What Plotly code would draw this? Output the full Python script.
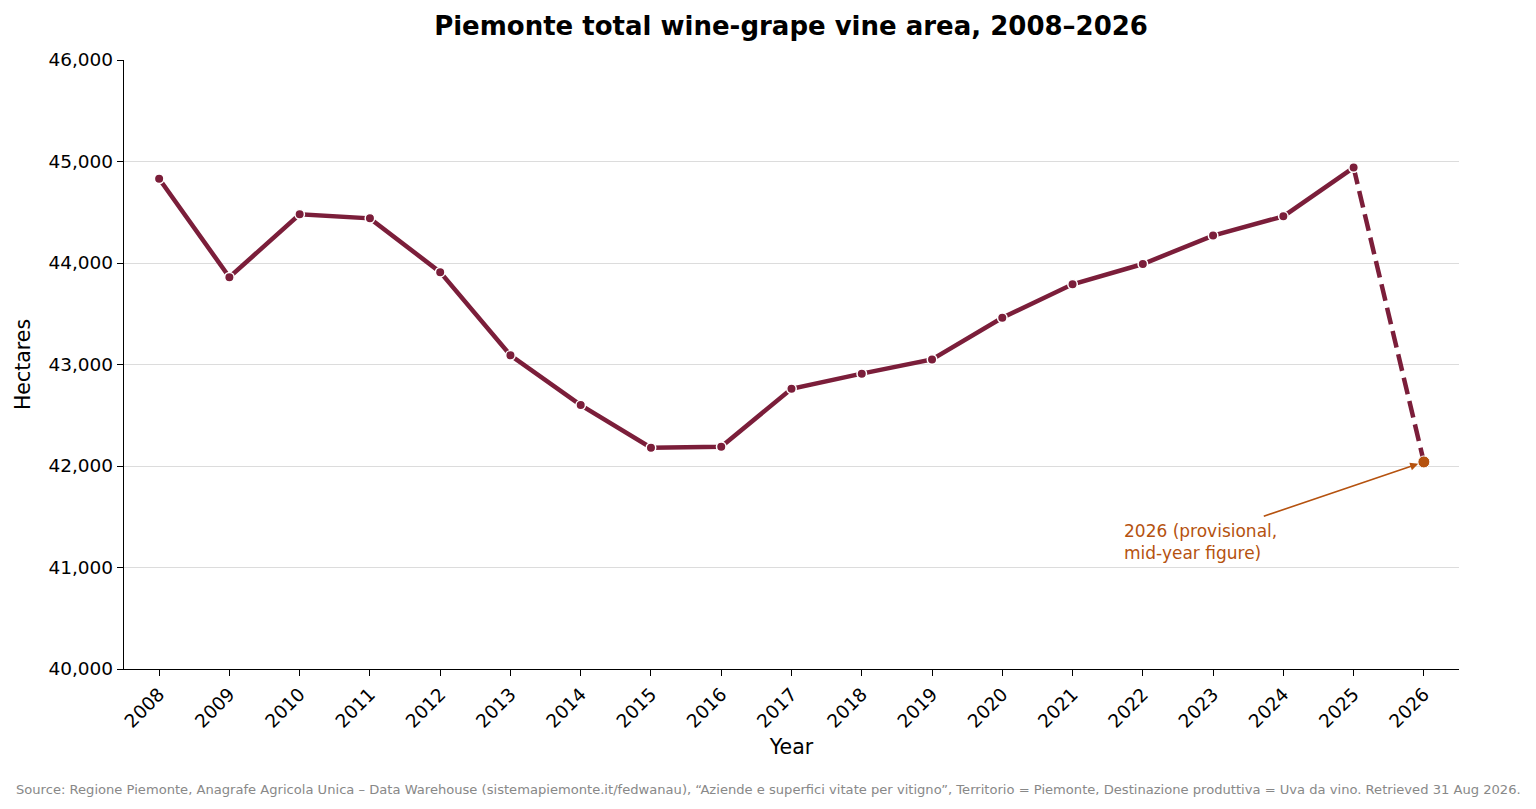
import plotly.graph_objects as go

# Piemonte wine-grape vine area (hectares)
years = list(range(2008, 2027))
hectares = [44830, 43860, 44480, 44440, 43910, 43090, 42600, 42180, 42190,
            42760, 42910, 43050, 43460, 43790, 43990, 44270, 44460, 44940, 42040]

wine = "#7B1E3A"
orange = "#B5520F"
font = "DejaVu Sans"

fig = go.Figure()

# final (provisional) segment, dashed
fig.add_trace(go.Scatter(
    x=years[-2:], y=hectares[-2:], mode="lines",
    line=dict(color=wine, width=4.5, dash="17px,7px"),
    hoverinfo="skip", showlegend=False
))

# confirmed years
fig.add_trace(go.Scatter(
    x=years[:-1], y=hectares[:-1], mode="lines+markers",
    line=dict(color=wine, width=4.5),
    marker=dict(size=9.5, color=wine, line=dict(color="white", width=1.5)),
    showlegend=False
))

# provisional 2026 point
fig.add_trace(go.Scatter(
    x=years[-1:], y=hectares[-1:], mode="markers",
    marker=dict(size=12, color=orange, line=dict(color="white", width=1)),
    showlegend=False
))

# arrow to the 2026 point
fig.add_annotation(
    x=years[-1], y=hectares[-1], xref="x", yref="y",
    ax=2023.7, ay=41500, axref="x", ayref="y",
    text="", showarrow=True, arrowhead=2, arrowsize=1, arrowwidth=1.6,
    arrowcolor=orange, standoff=6
)
fig.add_annotation(
    x=2021.7, y=41480, xref="x", yref="y",
    text="2026 (provisional,<br>mid-year figure)", showarrow=False,
    xanchor="left", yanchor="top", align="left",
    font=dict(family=font, size=17, color=orange)
)

# source line, centred on the page rather than the plot area
fig.add_annotation(
    x=(768 - 124) / 1335, y=0.0, xref="paper", yref="paper", yshift=-120,
    text=("Source: Regione Piemonte, Anagrafe Agricola Unica \u2013 Data Warehouse "
          "(sistemapiemonte.it/fedwanau), \u201cAziende e superfici vitate per vitigno\u201d, "
          "Territorio = Piemonte, Destinazione produttiva = Uva da vino. Retrieved 31 Aug 2026."),
    showarrow=False, xanchor="center", yanchor="middle",
    font=dict(family=font, size=13.1, color="#888888")
)

fig.update_layout(
    width=1536, height=809,
    margin=dict(l=124, r=77, t=60, b=140),
    paper_bgcolor="white", plot_bgcolor="white",
    font=dict(family=font, size=18.5, color="black"),
    title=dict(text="<b>Piemonte total wine-grape vine area, 2008\u20132026</b>",
               x=0.515, xanchor="center", y=0.968, yanchor="middle",
               font=dict(family=font, size=26, color="black")),
)

fig.update_xaxes(
    range=[2007.5, 2026.5], tickmode="array", tickvals=years,
    ticktext=[str(y) for y in years], tickangle=-45,
    showline=True, linecolor="black", linewidth=1.3,
    ticks="outside", ticklen=6, tickcolor="black",
    showgrid=False, zeroline=False,
    title=dict(text="Year", font=dict(family=font, size=20.5), standoff=8),
    tickfont=dict(family=font, size=18.5)
)
fig.update_yaxes(
    range=[40000, 46000], dtick=1000, tickformat=",",
    showline=True, linecolor="black", linewidth=1.3,
    ticks="outside", ticklen=6, tickcolor="black",
    showgrid=True, gridcolor="#dcdcdc", gridwidth=1, zeroline=False,
    title=dict(text="Hectares", font=dict(family=font, size=20.5), standoff=12),
    tickfont=dict(family=font, size=18.5)
)

# drop the page's default body margin so the 1536x809 figure fits the window
fig.write_html("out.html", config={"displayModeBar": False},
               post_script="document.body.style.margin='0';")
